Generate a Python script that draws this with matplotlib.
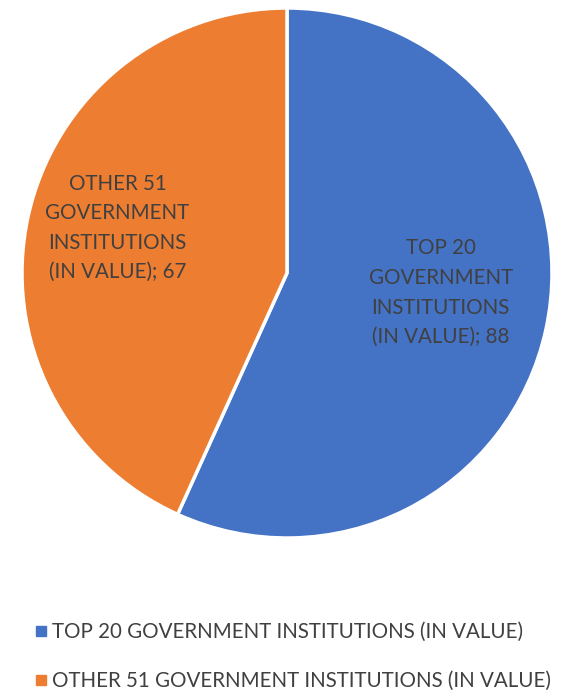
import matplotlib
matplotlib.use("Agg")
import matplotlib.pyplot as plt
from matplotlib.lines import Line2D

categories = ["TOP 20 GOVERNMENT INSTITUTIONS (IN VALUE)",
              "OTHER 51 GOVERNMENT INSTITUTIONS (IN VALUE)"]
label_lines = ["TOP 20\nGOVERNMENT\nINSTITUTIONS\n(IN VALUE); {}",
               "OTHER 51\nGOVERNMENT\nINSTITUTIONS\n(IN VALUE); {}"]
values = [88, 67]
colors = ["#4472C4", "#ED7D31"]
text_color = "#404040"

plt.rcParams["font.family"] = ["Lato", "DejaVu Sans"]

W, H, DPI = 561, 690, 100
fig = plt.figure(figsize=(W / DPI, H / DPI), dpi=DPI)
ax = fig.add_axes([22 / W, (H - 538) / H, 530 / W, 530 / H])

wedges, _ = ax.pie(values, colors=colors, startangle=90, counterclock=False,
                   radius=1.0,
                   wedgeprops=dict(edgecolor="white", linewidth=2.5))
ax.set_xlim(-1, 1)
ax.set_ylim(-1, 1)
ax.set_aspect("equal")
ax.axis("off")

label_pos = [(0.58, -0.075), (-0.64, 0.17)]
for txt, v, (x, y) in zip(label_lines, values, label_pos):
    ax.text(x, y, txt.format(v), ha="center", va="center", fontsize=14.8,
            color=text_color, linespacing=1.6)

handles = [Line2D([0], [0], marker="s", linestyle="none", markersize=7,
                  markerfacecolor=c, markeredgecolor=c) for c in colors]
fig.legend(handles, categories, loc="upper left",
           bbox_to_anchor=(20 / W, 1 - 612 / H), frameon=False,
           fontsize=14.8, labelcolor=text_color, handletextpad=0.05,
           handlelength=1.0, labelspacing=1.4, borderpad=0)

fig.savefig("out.png", dpi=DPI)
